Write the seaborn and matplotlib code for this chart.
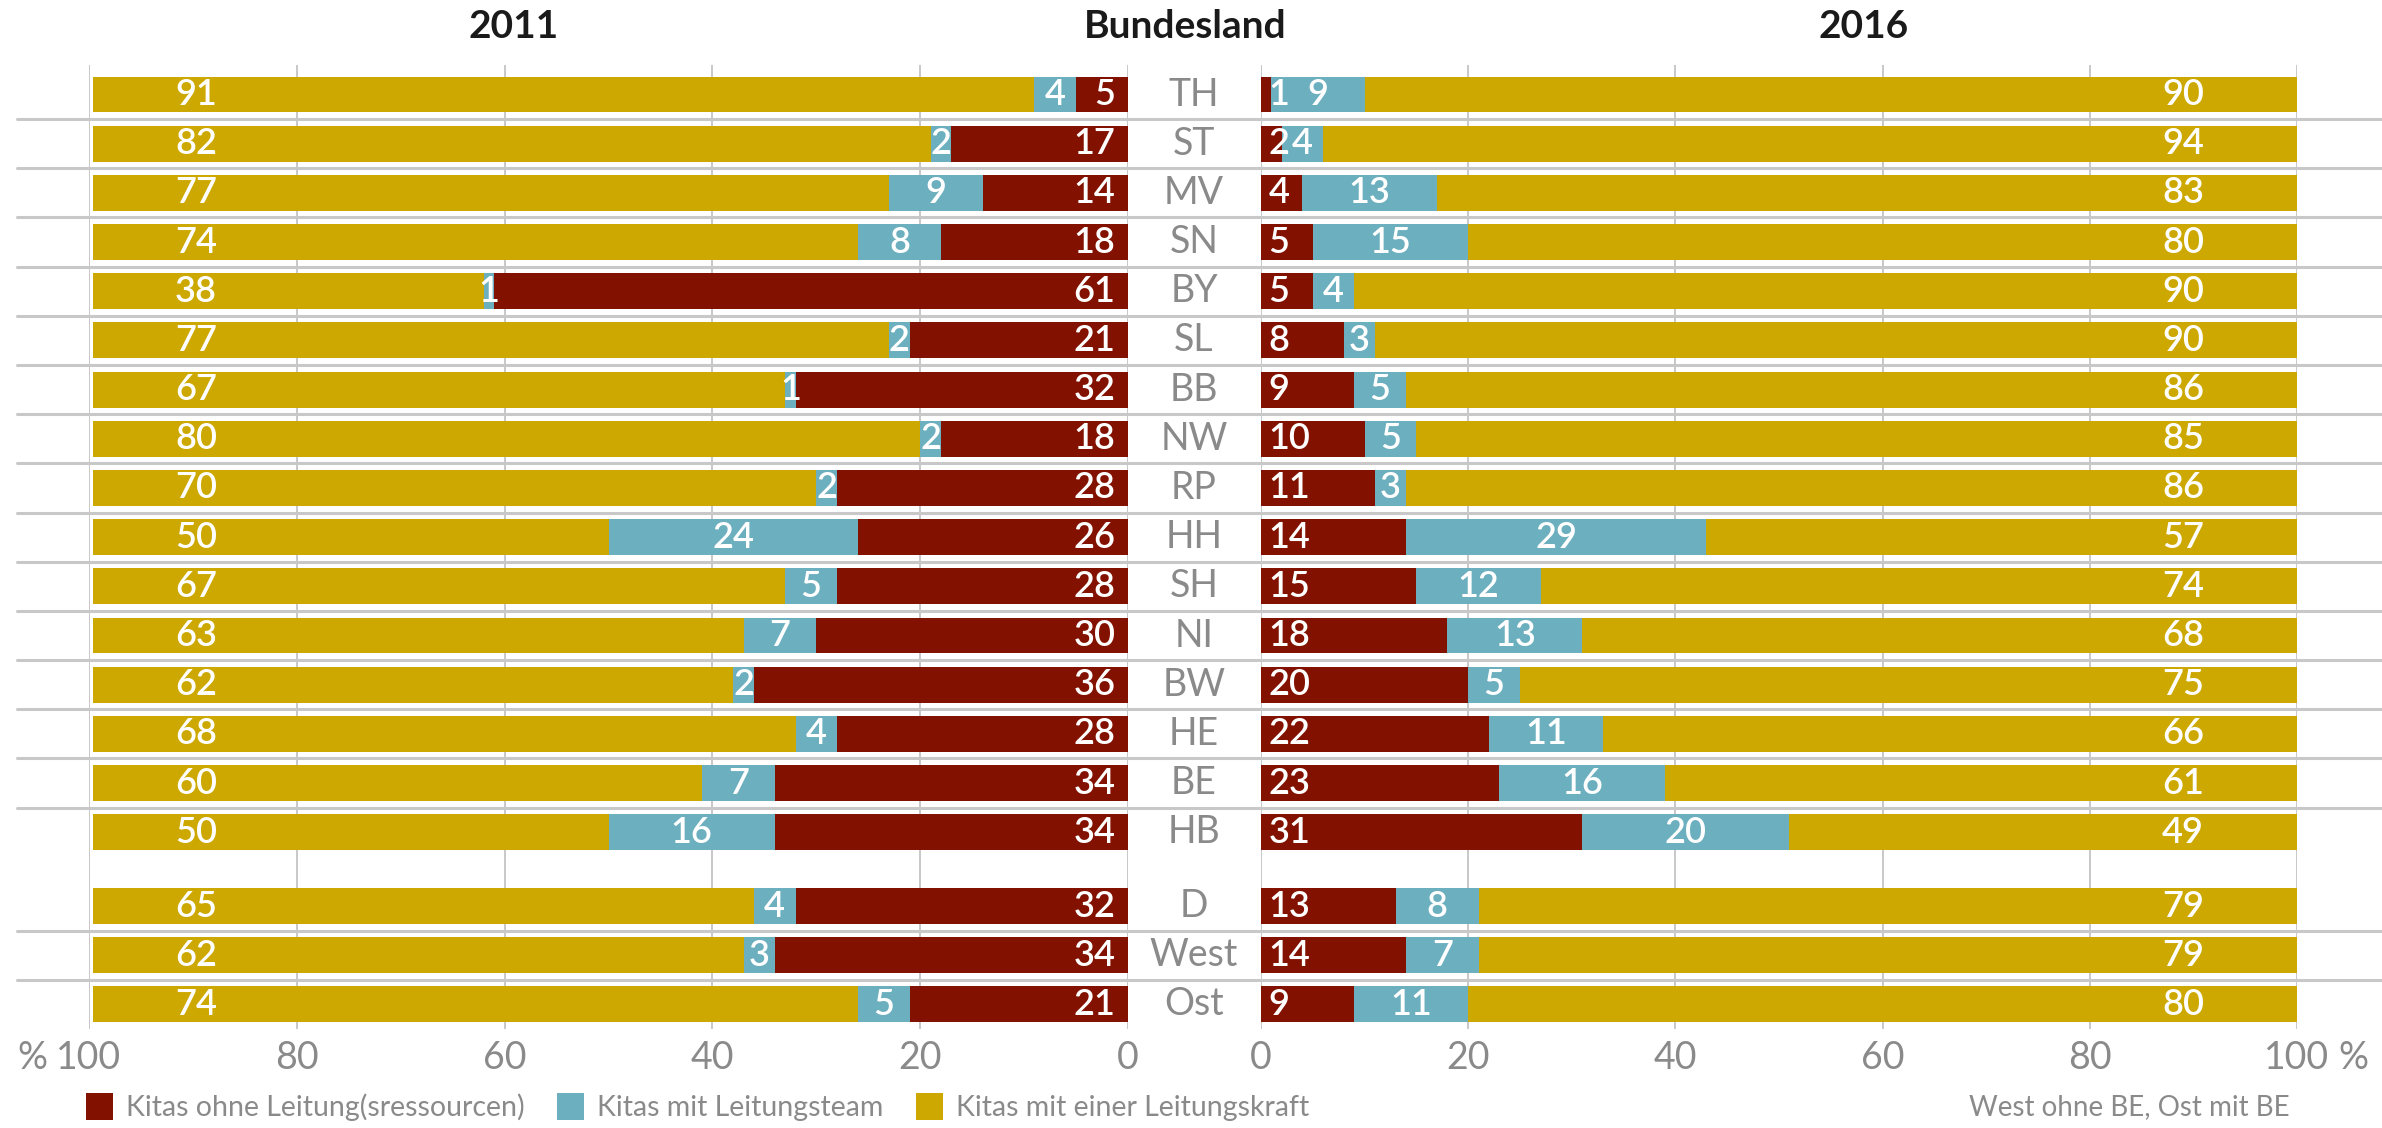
import numpy as np
import pandas as pd
import matplotlib
matplotlib.use("Agg")
import matplotlib.pyplot as plt
import matplotlib.transforms as mtransforms
from matplotlib.lines import Line2D
from matplotlib.patches import Patch
import seaborn as sns

# ---------------------------------------------------------------------------
# Data (percent of Kitas)
# ---------------------------------------------------------------------------
laender = ["TH", "ST", "MV", "SN", "BY", "SL", "BB", "NW", "RP", "HH",
           "SH", "NI", "BW", "HE", "BE", "HB", "D", "West", "Ost"]

ohne_2011 = [5, 17, 14, 18, 61, 21, 32, 18, 28, 26, 28, 30, 36, 28, 34, 34, 32, 34, 21]
team_2011 = [4, 2, 9, 8, 1, 2, 1, 2, 2, 24, 5, 7, 2, 4, 7, 16, 4, 3, 5]
eine_2011 = [91, 82, 77, 74, 38, 77, 67, 80, 70, 50, 67, 63, 62, 68, 60, 50, 65, 62, 74]

ohne_2016 = [1, 2, 4, 5, 5, 8, 9, 10, 11, 14, 15, 18, 20, 22, 23, 31, 13, 14, 9]
team_2016 = [9, 4, 13, 15, 4, 3, 5, 5, 3, 29, 12, 13, 5, 11, 16, 20, 8, 7, 11]
eine_2016 = [90, 94, 83, 80, 90, 90, 86, 85, 86, 57, 74, 68, 75, 66, 61, 49, 79, 79, 80]

legend_labels = ["Kitas ohne Leitung(sressourcen)", "Kitas mit Leitungsteam",
                 "Kitas mit einer Leitungskraft"]
footnote = "West ohne BE, Ost mit BE"

# row positions: 16 Länder, a gap, then D / West / Ost
row_pos = list(range(16)) + [16.5, 17.5, 18.5]

RED = "#831100"
TEAL = "#6cafbe"
GOLD = "#cca800"
GRID = "#c8c8c8"
GREY = "#8a8a8a"

W, H = 2382, 1128
sns.set_theme(style="white")
plt.rcParams["font.family"] = ["Lato", "DejaVu Sans"]

fig = plt.figure(figsize=(W / 100, H / 100), dpi=100)
top, bottom = 1 - 65 / H, 1 - 1029 / H
axL = fig.add_axes([89 / W, bottom, (1128 - 89) / W, top - bottom])
axR = fig.add_axes([1261 / W, bottom, (2297 - 1261) / W, top - bottom])


def draw_panel(ax, ohne, team, eine, inverted, full):
    df = pd.DataFrame({"pos": row_pos, "ohne": ohne, "team": team, "eine": eine})
    df["cum_team"] = df["ohne"] + df["team"]
    df["cum_all"] = full  # stacked shares fill up to 100 %
    for col, color in [("cum_all", GOLD), ("cum_team", TEAL), ("ohne", RED)]:
        sns.barplot(data=df, x=col, y="pos", orient="h", native_scale=True,
                    width=0.73, color=color, saturation=1, linewidth=0,
                    errorbar=None, ax=ax)
    ax.set_ylim(19.0, -0.6)
    ax.set_xlim((100, 0) if inverted else (0, 100))
    ax.set_xticks([0, 20, 40, 60, 80, 100])
    ax.set_xticklabels(["0", "20", "40", "60", "80", "100"])
    ax.tick_params(axis="x", length=0, pad=8, labelsize=27, labelcolor=GREY)
    ax.set_yticks([])
    ax.set_xlabel("")
    ax.set_ylabel("")
    ax.grid(axis="x", color=GRID, lw=1.4)
    ax.grid(axis="y", visible=False)
    ax.set_axisbelow(True)
    for s in ax.spines.values():
        s.set_visible(False)

    lab = dict(color="white", fontsize=26, fontweight="semibold", va="center")
    for _, r in df.iterrows():
        y = r["pos"]
        # red: at the zero end
        ax.text(1.2 if inverted else 0.7, y, f"{int(r['ohne'])}",
                ha="right" if inverted else "left", **lab)
        # teal: centred in its segment
        ax.text(r["ohne"] + r["team"] / 2, y, f"{int(r['team'])}", ha="center", **lab)
        # gold: fixed near the 100 end
        ax.text(89.7 if inverted else 89.0, y, f"{int(r['eine'])}", ha="center", **lab)


draw_panel(axL, ohne_2011, team_2011, eine_2011, inverted=True, full=99.6)
draw_panel(axR, ohne_2016, team_2016, eine_2016, inverted=False, full=100)

# percent signs next to the 100 ticks
axL.annotate("%", xy=(100, 0), xycoords=("data", "axes fraction"),
             xytext=(-30, -8), textcoords="offset points", ha="right", va="top",
             fontsize=27, color=GREY)
axR.annotate("%", xy=(100, 0), xycoords=("data", "axes fraction"),
             xytext=(30, -8), textcoords="offset points", ha="left", va="top",
             fontsize=27, color=GREY)

# Bundesland labels in the middle
mid = mtransforms.blended_transform_factory(fig.transFigure, axL.transData)
for name, y in zip(laender, row_pos):
    fig.text(1194 / W, y, name, transform=mid, ha="center", va="center",
             fontsize=27, color=GREY)

# row separators across the whole width
sep_rows = [p + 0.5 for p in row_pos[:15]] + [17.0, 18.0]
for y in sep_rows:
    fig.add_artist(Line2D([17 / W, 1.0], [y, y], transform=mid, color=GRID, lw=2.2))

# headers
for txt, x in [("2011", 514), ("Bundesland", 1185), ("2016", 1864)]:
    fig.text(x / W, 1 - 27 / H, txt, ha="center", va="center", fontsize=28,
             fontweight="bold", color="#1a1a1a")

# legend
handles = [Patch(facecolor=c, edgecolor="none") for c in (RED, TEAL, GOLD)]
fig.legend(handles=handles, labels=legend_labels, loc="center left",
           bbox_to_anchor=(86 / W, 1 - 1107 / H), ncol=3, frameon=False,
           fontsize=20.5, labelcolor=GREY, handlelength=0.95, handleheight=1.1,
           handletextpad=0.45, columnspacing=1.15, borderpad=0, borderaxespad=0)
fig.text(2290 / W, 1 - 1107 / H, footnote, ha="right", va="center",
         fontsize=20, color=GREY)

fig.savefig("out.png", dpi=100)
